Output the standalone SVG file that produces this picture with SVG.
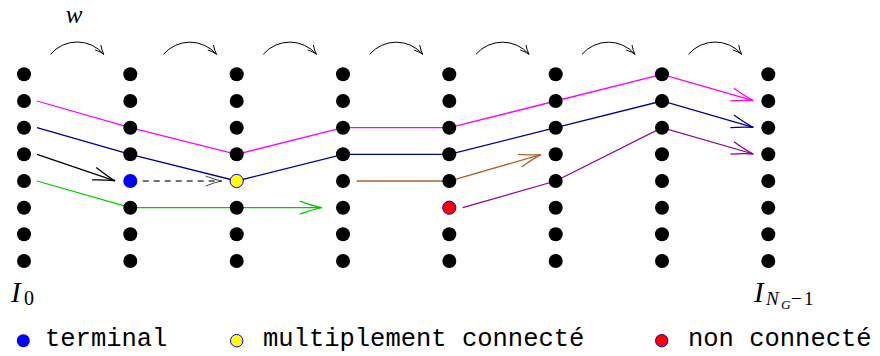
<svg xmlns="http://www.w3.org/2000/svg" width="880" height="356" viewBox="0 0 880 356">
<style>
.d{fill:#000}
.e{fill:none;stroke-width:1.3}
.arc{fill:none;stroke:#000;stroke-width:1;marker-end:url(#ma)}
.m{font-family:"Liberation Serif",serif;font-style:italic}
.r{font-family:"Liberation Serif",serif}
.t{font-family:"Liberation Mono",monospace;font-size:25.5px}
</style>
<defs>
<marker id="ma" markerUnits="userSpaceOnUse" viewBox="-11 -5 12 10" refX="0" refY="0" markerWidth="12" markerHeight="10" orient="auto"><path d="M-9,-3.8 Q-4,-0.8 0,0 Q-4,0.8 -9,3.8" fill="none" stroke="#000" stroke-width="0.9"/></marker>
<marker id="mk" markerUnits="userSpaceOnUse" viewBox="-24 -9 26 18" refX="0" refY="0" markerWidth="26" markerHeight="18" orient="auto"><path d="M-22,-6.5 Q-8,-1.5 0,0 Q-8,1.5 -22,6.5" fill="none" stroke="#000" stroke-width="1.3"/></marker>
<marker id="mg" markerUnits="userSpaceOnUse" viewBox="-24 -9 26 18" refX="0" refY="0" markerWidth="26" markerHeight="18" orient="auto"><path d="M-22,-6.5 Q-8,-1.5 0,0 Q-8,1.5 -22,6.5" fill="none" stroke="#ff00ff" stroke-width="1.3"/></marker>
<marker id="mb" markerUnits="userSpaceOnUse" viewBox="-24 -9 26 18" refX="0" refY="0" markerWidth="26" markerHeight="18" orient="auto"><path d="M-22,-6.5 Q-8,-1.5 0,0 Q-8,1.5 -22,6.5" fill="none" stroke="#000099" stroke-width="1.3"/></marker>
<marker id="mgr" markerUnits="userSpaceOnUse" viewBox="-24 -9 26 18" refX="0" refY="0" markerWidth="26" markerHeight="18" orient="auto"><path d="M-22,-6.5 Q-8,-1.5 0,0 Q-8,1.5 -22,6.5" fill="none" stroke="#00cc00" stroke-width="1.3"/></marker>
<marker id="mbr" markerUnits="userSpaceOnUse" viewBox="-24 -9 26 18" refX="0" refY="0" markerWidth="26" markerHeight="18" orient="auto"><path d="M-22,-6.5 Q-8,-1.5 0,0 Q-8,1.5 -22,6.5" fill="none" stroke="#b0602a" stroke-width="1.3"/></marker>
<marker id="mp" markerUnits="userSpaceOnUse" viewBox="-24 -9 26 18" refX="0" refY="0" markerWidth="26" markerHeight="18" orient="auto"><path d="M-22,-6.5 Q-8,-1.5 0,0 Q-8,1.5 -22,6.5" fill="none" stroke="#900090" stroke-width="1.3"/></marker>
<marker id="md" markerUnits="userSpaceOnUse" viewBox="-24 -9 26 18" refX="0" refY="0" markerWidth="26" markerHeight="18" orient="auto"><path d="M-16,-5 Q-6,-1 0,0 Q-6,1 -16,5" fill="none" stroke="#444" stroke-width="1"/></marker>
</defs>

<g id="arcs">
<path class="arc" d="M50.5,54.3 A35,35 0 0 1 103.8,54.3"/>
<path class="arc" d="M163.5,54.3 A35,35 0 0 1 216.5,54.3"/>
<path class="arc" d="M263.3,54.3 A35,35 0 0 1 316.4,54.3"/>
<path class="arc" d="M369.7,54.3 A35,35 0 0 1 422.7,54.3"/>
<path class="arc" d="M476,54.3 A35,35 0 0 1 529,54.3"/>
<path class="arc" d="M582,54.3 A35,35 0 0 1 635,54.3"/>
<path class="arc" d="M688.5,54.3 A35,35 0 0 1 741.7,54.3"/>
</g>
<text class="m" x="74" y="23" font-size="25" text-anchor="middle">w</text>

<g id="connectors">
<polyline class="e" stroke="#ff00ff" marker-end="url(#mg)" points="37,101 130.3,127.7 236.7,154.3 343,127.7 449.3,127.7 555.7,101 662,74.3 753.3,100.7"/>
<polyline class="e" stroke="#000099" marker-end="url(#mb)" points="37,127.7 130.3,154.3 236.7,181 343,154.3 449.3,154.3 555.7,127.7 662,101 753.3,127.4"/>
<polyline class="e" stroke="#000" marker-end="url(#mk)" points="37,154.3 115,180.8"/>
<polyline class="e" stroke="#444" stroke-width="1.1" stroke-dasharray="6,5" marker-end="url(#md)" points="142.7,181 221.7,181"/>
<polyline class="e" stroke="#00cc00" marker-end="url(#mgr)" points="37,181 130.3,207.7 236.7,207.7 321.7,207.7"/>
<polyline class="e" stroke="#b0602a" marker-end="url(#mbr)" points="356.7,181 449.3,181 541,154.6"/>
<polyline class="e" stroke="#900090" marker-end="url(#mp)" points="462.7,207.7 555.7,181 662,127.7 753.3,154"/>
</g>

<g id="nodes">
<g id="n0"><circle class="d" cx="24" cy="74.3" r="7"/><circle class="d" cx="24" cy="101" r="7"/><circle class="d" cx="24" cy="127.7" r="7"/><circle class="d" cx="24" cy="154.3" r="7"/><circle class="d" cx="24" cy="181" r="7"/><circle class="d" cx="24" cy="207.7" r="7"/><circle class="d" cx="24" cy="234.3" r="7"/><circle class="d" cx="24" cy="261" r="7"/></g>
<g id="n1"><circle class="d" cx="130.3" cy="74.3" r="7"/><circle class="d" cx="130.3" cy="101" r="7"/><circle class="d" cx="130.3" cy="127.7" r="7"/><circle class="d" cx="130.3" cy="154.3" r="7"/><circle id="terminal" cx="130.3" cy="181" r="7" fill="#0000ff"/><circle class="d" cx="130.3" cy="207.7" r="7"/><circle class="d" cx="130.3" cy="234.3" r="7"/><circle class="d" cx="130.3" cy="261" r="7"/></g>
<g id="n2"><circle class="d" cx="236.7" cy="74.3" r="7"/><circle class="d" cx="236.7" cy="101" r="7"/><circle class="d" cx="236.7" cy="127.7" r="7"/><circle class="d" cx="236.7" cy="154.3" r="7"/><circle id="multi" cx="236.7" cy="181" r="6.6" fill="#ffff00" stroke="#0000ff" stroke-width="1"/><circle class="d" cx="236.7" cy="207.7" r="7"/><circle class="d" cx="236.7" cy="234.3" r="7"/><circle class="d" cx="236.7" cy="261" r="7"/></g>
<g id="n3"><circle class="d" cx="343" cy="74.3" r="7"/><circle class="d" cx="343" cy="101" r="7"/><circle class="d" cx="343" cy="127.7" r="7"/><circle class="d" cx="343" cy="154.3" r="7"/><circle class="d" cx="343" cy="181" r="7"/><circle class="d" cx="343" cy="207.7" r="7"/><circle class="d" cx="343" cy="234.3" r="7"/><circle class="d" cx="343" cy="261" r="7"/></g>
<g id="n4"><circle class="d" cx="449.3" cy="74.3" r="7"/><circle class="d" cx="449.3" cy="101" r="7"/><circle class="d" cx="449.3" cy="127.7" r="7"/><circle class="d" cx="449.3" cy="154.3" r="7"/><circle class="d" cx="449.3" cy="181" r="7"/><circle id="nonconn" cx="449.3" cy="207.7" r="6.6" fill="#ff0000" stroke="#0000ff" stroke-width="1"/><circle class="d" cx="449.3" cy="234.3" r="7"/><circle class="d" cx="449.3" cy="261" r="7"/></g>
<g id="n5"><circle class="d" cx="555.7" cy="74.3" r="7"/><circle class="d" cx="555.7" cy="101" r="7"/><circle class="d" cx="555.7" cy="127.7" r="7"/><circle class="d" cx="555.7" cy="154.3" r="7"/><circle class="d" cx="555.7" cy="181" r="7"/><circle class="d" cx="555.7" cy="207.7" r="7"/><circle class="d" cx="555.7" cy="234.3" r="7"/><circle class="d" cx="555.7" cy="261" r="7"/></g>
<g id="n6"><circle class="d" cx="662" cy="74.3" r="7"/><circle class="d" cx="662" cy="101" r="7"/><circle class="d" cx="662" cy="127.7" r="7"/><circle class="d" cx="662" cy="154.3" r="7"/><circle class="d" cx="662" cy="181" r="7"/><circle class="d" cx="662" cy="207.7" r="7"/><circle class="d" cx="662" cy="234.3" r="7"/><circle class="d" cx="662" cy="261" r="7"/></g>
<g id="n7"><circle class="d" cx="768.3" cy="74.3" r="7"/><circle class="d" cx="768.3" cy="101" r="7"/><circle class="d" cx="768.3" cy="127.7" r="7"/><circle class="d" cx="768.3" cy="154.3" r="7"/><circle class="d" cx="768.3" cy="181" r="7"/><circle class="d" cx="768.3" cy="207.7" r="7"/><circle class="d" cx="768.3" cy="234.3" r="7"/><circle class="d" cx="768.3" cy="261" r="7"/></g>
</g>

<g id="labels">
<text x="11" y="301.7"><tspan class="m" font-size="29">I</tspan><tspan class="r" font-size="20" x="24" y="305">0</tspan></text>
<text x="754" y="301.7"><tspan class="m" font-size="29">I</tspan><tspan class="m" font-size="19" x="766" y="304.5">N</tspan><tspan class="m" font-size="13.5" x="781" y="308.5">G</tspan><tspan class="r" font-size="19" x="791" y="304.5">−</tspan><tspan class="r" font-size="19" x="804" y="304.5">1</tspan></text>
</g>

<g id="legend">
<circle cx="23.3" cy="340.7" r="6.5" fill="#0000ff"/>
<text class="t" x="45" y="346">terminal</text>
<circle cx="236.7" cy="340.7" r="6.2" fill="#ffff00" stroke="#0000ff" stroke-width="1"/>
<text class="t" x="263" y="346">multiplement connecté</text>
<circle cx="661.7" cy="340.7" r="6.2" fill="#ff0000" stroke="#0000ff" stroke-width="1"/>
<text class="t" x="688" y="346">non connecté</text>
</g>
</svg>
